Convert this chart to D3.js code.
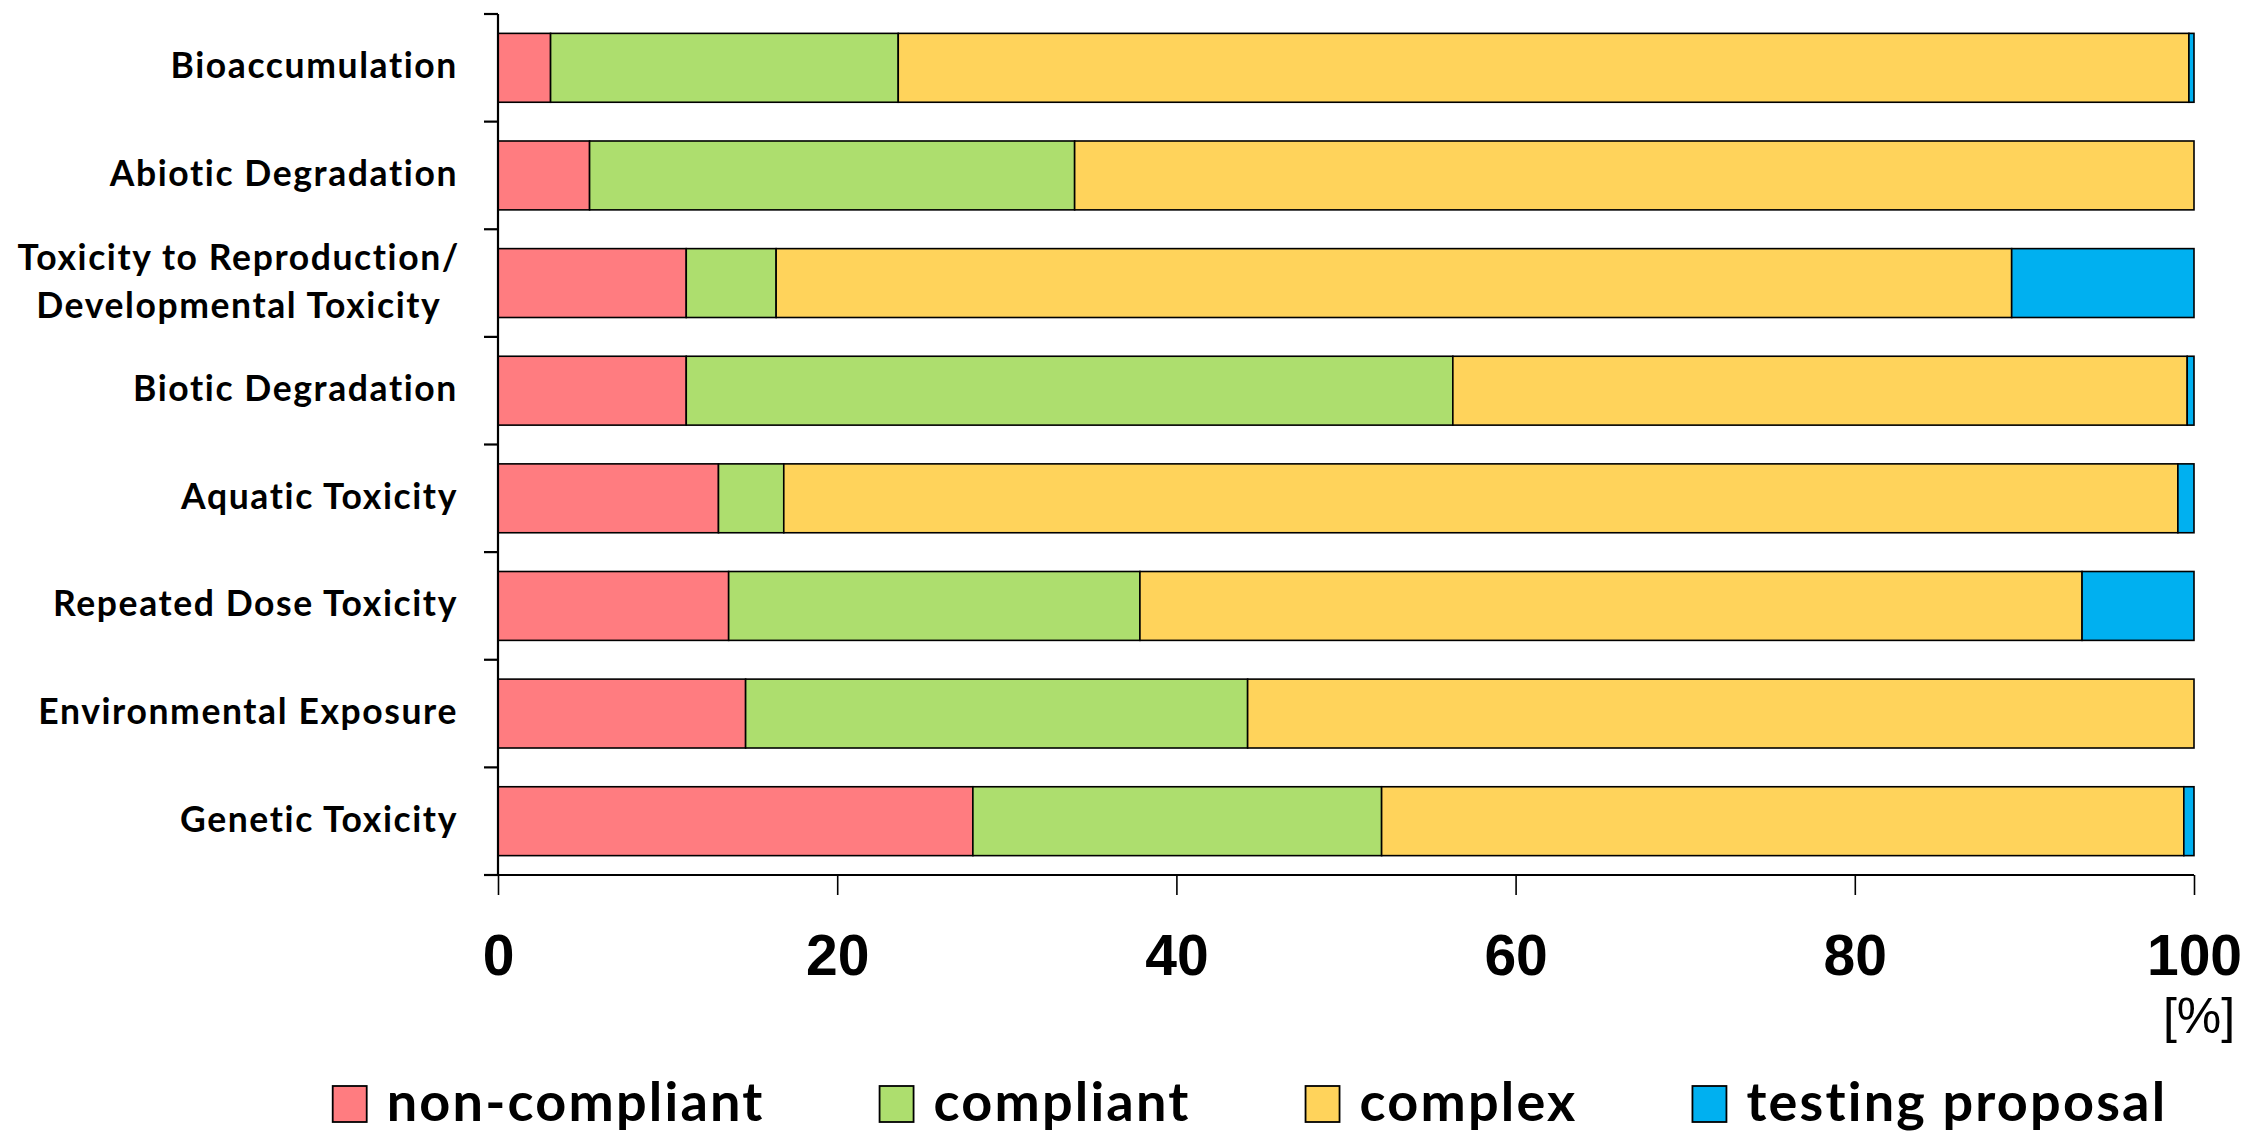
<!DOCTYPE html>
<html>
<head>
<meta charset="utf-8">
<script src="https://cdn.jsdelivr.net/npm/d3@7"></script>
<style>
  html, body { margin: 0; padding: 0; background: #ffffff; }
  svg { display: block; }
</style>
</head>
<body>
<svg id="chart" width="2247" height="1133"></svg>
<script>
// ---- data ----
const categories = [
  "Bioaccumulation",
  "Abiotic Degradation",
  "Toxicity to Reproduction/\nDevelopmental Toxicity",
  "Biotic Degradation",
  "Aquatic Toxicity",
  "Repeated Dose Toxicity",
  "Environmental Exposure",
  "Genetic Toxicity"
];
const seriesNames = ["non-compliant", "compliant", "complex", "testing proposal"];
const nonCompliant    = [3.1, 5.4, 11.1, 11.1, 13.0, 13.6, 14.6, 28.0];
const compliant       = [20.5, 28.6, 5.3, 45.2, 3.85, 24.25, 29.6, 24.1];
const complex         = [76.1, 66.0, 72.85, 43.3, 82.2, 55.55, 55.8, 47.3];
const testingProposal = [0.3, 0.0, 10.75, 0.4, 0.95, 6.6, 0.0, 0.6];
const xTicks = [0, 20, 40, 60, 80, 100];
const unitLabel = "[%]";

const colors = ["#FF7C80", "#ADDE6E", "#FFD35B", "#00B0F0"];

(function () {
// ---- build table ----
const seriesArrays = [nonCompliant, compliant, complex, testingProposal];
const table = categories.map((c, i) => {
  const row = { category: c };
  seriesNames.forEach((s, j) => row[s] = seriesArrays[j][i]);
  return row;
});

const svg = d3.select("#chart");
const plotLeft = 498, plotRight = 2194, plotTop = 14, plotBottom = 875;

const x = d3.scaleLinear().domain([0, 100]).range([plotLeft, plotRight]);
const y = d3.scaleBand().domain(categories).range([plotTop, plotBottom])
  .paddingInner(0.36).paddingOuter(0.18);

const stacked = d3.stack().keys(seriesNames)(table);

// bars
svg.append("g").selectAll("g.series")
  .data(stacked)
  .join("g")
  .attr("class", "series")
  .attr("fill", (d, i) => colors[i])
  .selectAll("rect")
  .data(d => d.filter(p => p[1] - p[0] > 0))
  .join("rect")
  .attr("x", d => x(d[0]))
  .attr("y", d => y(d.data.category))
  .attr("width", d => x(d[1]) - x(d[0]))
  .attr("height", y.bandwidth())
  .attr("stroke", "#000")
  .attr("stroke-width", 1.6);

// y axis: line and ticks at band boundaries
const yAxisG = svg.append("g");
yAxisG.append("line")
  .attr("x1", plotLeft).attr("x2", plotLeft)
  .attr("y1", plotTop).attr("y2", plotBottom)
  .attr("stroke", "#000").attr("stroke-width", 2.2);
const boundaries = categories.map(c => y(c) - y.step() * y.paddingInner() / 2)
  .concat([plotBottom]);
yAxisG.selectAll("line.tick")
  .data(boundaries)
  .join("line")
  .attr("class", "tick")
  .attr("x1", plotLeft - 14).attr("x2", plotLeft)
  .attr("y1", d => d).attr("y2", d => d)
  .attr("stroke", "#000").attr("stroke-width", 2.2);

// x axis
const xAxis = d3.axisBottom(x).tickValues(xTicks).tickSize(20).tickPadding(40)
  .tickFormat(d3.format("d"));
const xAxisG = svg.append("g")
  .attr("transform", `translate(0,${plotBottom})`)
  .call(xAxis);
xAxisG.select(".domain").attr("stroke", "#000").attr("stroke-width", 2.2)
  .attr("d", `M${plotLeft},0H${plotRight}`);
xAxisG.selectAll(".tick line").attr("stroke", "#000").attr("stroke-width", 1.6);
xAxisG.selectAll(".tick text")
  .attr("fill", "#000")
  .attr("dy", null)
  .attr("y", 100)
  .style("font-family", "'Liberation Sans Narrow', 'Liberation Sans', sans-serif")
  .style("font-weight", "bold")
  .style("font-size", "57px");

svg.append("text")
  .attr("x", 2199).attr("y", 1033)
  .attr("text-anchor", "middle")
  .style("font-family", "'Liberation Sans Narrow', 'Liberation Sans', sans-serif")
  .style("font-size", "50px")
  .attr("fill", "#000")
  .text(unitLabel);

// category labels
const labelFont = "Lato, 'Open Sans', sans-serif";
const labelRight = 458;
categories.forEach(c => {
  const lines = c.split("\n");
  const cy = y(c) + y.bandwidth() / 2 - 3;
  const t = svg.append("text")
    .style("font-family", labelFont)
    .style("font-weight", "bold")
    .style("font-size", "35.5px")
    .style("letter-spacing", "1.6px")
    .attr("fill", "#000")
    .attr("dominant-baseline", "central");
  if (lines.length === 1) {
    t.attr("x", labelRight).attr("y", cy).attr("text-anchor", "end").text(c);
  } else {
    const lh = 48;
    const spans = lines.map((l, i) => t.append("tspan")
      .attr("y", cy + (i - (lines.length - 1) / 2) * lh)
      .text(l));
    const widths = spans.map(s => s.node().getComputedTextLength());
    const maxW = d3.max(widths);
    const cx = labelRight + 2 - maxW / 2;
    t.attr("text-anchor", "middle");
    spans.forEach(s => s.attr("x", cx));
  }
});

// legend
const legendG = svg.append("g");
const sw = 34, sh = 36, gapTxt = 20, gapItem = 115;
let cursor = 0;
seriesNames.forEach((s, i) => {
  const ig = legendG.append("g");
  ig.append("rect")
    .attr("x", cursor).attr("y", 1086)
    .attr("width", sw).attr("height", sh)
    .attr("fill", colors[i]).attr("stroke", "#000").attr("stroke-width", 1.8);
  const tx = ig.append("text")
    .attr("x", cursor + sw + gapTxt).attr("y", 1121)
    .style("font-family", labelFont)
    .style("font-weight", "bold")
    .style("font-size", "54px")
    .style("letter-spacing", "2.2px")
    .attr("fill", "#000")
    .text(s);
  const w = tx.node().getComputedTextLength();
  cursor += sw + gapTxt + w + gapItem;
});
const totalW = cursor - gapItem;
legendG.attr("transform", `translate(${1250 - totalW / 2},0)`);
})();
</script>
</body>
</html>
